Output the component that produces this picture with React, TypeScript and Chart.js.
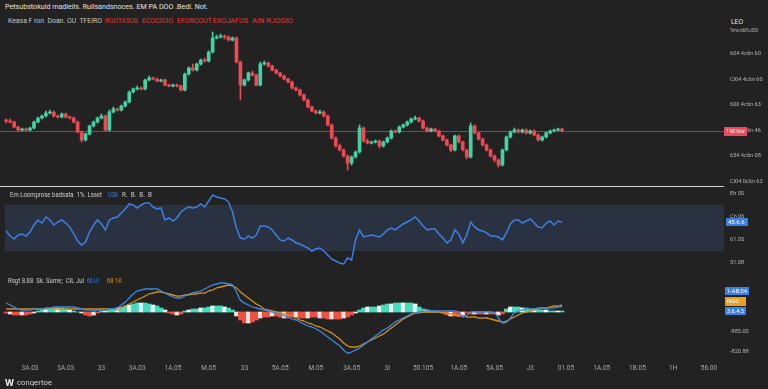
import React, { useEffect, useLayoutEffect, useRef } from "react";
import { Chart, registerables } from "chart.js";
Chart.register(...registerables);

const FONT = "Roboto, 'DejaVu Sans', sans-serif";

// [open, high, low, close]
const candles: number[][] = [
  [80, 81, 77, 79], [79, 81, 77, 78], [78, 79, 72, 73], [73, 74, 69, 70], [70, 72, 69, 71],
  [71, 72, 69, 70], [70, 73, 69, 72], [72, 79, 71, 78], [78, 83, 77, 82], [82, 85, 81, 84],
  [84, 89, 83, 87], [87, 90, 86, 88], [88, 89, 83, 84], [84, 85, 82, 83], [83, 87, 82, 86],
  [86, 87, 82, 83], [83, 84, 81, 82], [82, 83, 77, 78], [78, 79, 67, 68], [68, 69, 58, 60],
  [60, 67, 59, 66], [66, 75, 65, 74], [74, 79, 73, 78], [78, 83, 77, 82], [82, 86, 81, 84],
  [84, 85, 69, 70], [70, 90, 69, 88], [88, 93, 87, 91], [91, 92, 89, 90], [90, 95, 89, 94],
  [94, 99, 93, 98], [98, 109, 97, 108], [108, 112, 107, 111], [111, 114, 110, 112], [112, 113, 110, 111],
  [111, 121, 110, 120], [120, 124, 119, 122], [122, 123, 120, 121], [121, 122, 118, 119], [119, 121, 118, 120],
  [120, 121, 114, 115], [115, 116, 113, 114], [114, 116, 113, 115], [115, 116, 113, 114], [114, 115, 109, 110],
  [110, 127, 109, 126], [126, 133, 125, 132], [132, 136, 129, 130], [130, 137, 129, 136], [136, 141, 135, 140],
  [140, 142, 138, 139], [139, 149, 138, 148], [148, 168, 147, 162], [162, 165, 161, 163], [163, 166, 162, 164],
  [164, 165, 161, 163], [163, 164, 159, 160], [160, 163, 159, 162], [162, 163, 137, 138], [138, 139, 100, 115],
  [115, 121, 114, 120], [120, 128, 119, 127], [127, 129, 124, 125], [125, 126, 114, 115], [115, 138, 114, 136],
  [136, 139, 135, 137], [137, 138, 133, 134], [134, 135, 129, 130], [130, 131, 126, 127], [127, 128, 123, 124],
  [124, 125, 120, 121], [121, 122, 117, 118], [118, 119, 111, 112], [112, 113, 109, 110], [110, 111, 104, 105],
  [105, 106, 99, 100], [100, 101, 92, 93], [93, 94, 88, 89], [89, 90, 86, 87], [87, 90, 86, 88],
  [88, 89, 83, 84], [84, 85, 74, 75], [75, 76, 61, 62], [62, 63, 53, 54], [54, 56, 49, 50],
  [50, 51, 43, 44], [44, 45, 30, 37], [37, 44, 35, 43], [43, 49, 42, 48], [48, 75, 47, 72],
  [72, 73, 58, 59], [59, 61, 56, 57], [57, 59, 56, 58], [58, 60, 57, 59], [59, 60, 52, 54],
  [54, 59, 53, 58], [58, 63, 57, 62], [62, 70, 61, 69], [69, 70, 67, 68], [68, 74, 67, 73],
  [73, 76, 72, 75], [75, 79, 74, 78], [78, 82, 77, 81], [81, 84, 80, 82], [82, 83, 78, 79],
  [79, 80, 71, 72], [72, 73, 68, 69], [69, 72, 68, 71], [71, 72, 68, 69], [69, 70, 63, 64],
  [64, 65, 59, 60], [60, 61, 54, 55], [55, 56, 48, 50], [50, 65, 49, 64], [64, 65, 57, 58],
  [58, 59, 49, 50], [50, 51, 41, 43], [43, 77, 42, 74], [74, 75, 66, 67], [67, 68, 60, 61],
  [61, 62, 54, 55], [55, 56, 49, 50], [50, 51, 43, 44], [44, 45, 38, 40], [40, 41, 33, 35],
  [35, 51, 34, 50], [50, 64, 49, 63], [63, 69, 62, 68], [68, 72, 67, 70], [70, 71, 67, 68],
  [68, 71, 67, 70], [70, 71, 66, 67], [67, 70, 66, 69], [69, 70, 64, 65], [65, 66, 59, 60],
  [60, 64, 59, 63], [63, 68, 62, 67], [67, 70, 66, 69], [69, 71, 68, 70], [70, 72, 69, 71],
  [71, 72, 68, 69],
];

const rsiValues = [
  47.4, 43.0, 40.4, 43.9, 44.8, 43.0, 46.5, 52.6, 57.0, 54.3,
  59.6, 57.0, 52.6, 55.2, 57.0, 54.3, 50.9, 44.8, 38.7, 35.2,
  37.8, 46.5, 52.6, 57.0, 53.5, 48.3, 57.0, 58.7, 59.6, 63.0,
  66.5, 70.9, 70.0, 67.4, 70.0, 71.7, 71.7, 68.3, 66.5, 67.4,
  57.0, 58.7, 56.1, 58.7, 63.9, 66.5, 68.3, 67.4, 68.3, 70.9,
  68.3, 73.5, 78.7, 77.0, 76.1, 75.2, 72.6, 63.9, 50.0, 41.3,
  40.4, 43.0, 41.3, 43.9, 51.7, 51.7, 50.9, 48.3, 43.9, 39.6,
  38.7, 41.3, 39.6, 37.0, 36.1, 34.3, 32.6, 30.0, 31.7, 32.6,
  30.0, 26.5, 23.0, 21.3, 19.6, 18.7, 23.9, 22.2, 39.6, 48.3,
  42.2, 43.0, 43.9, 43.0, 42.2, 44.8, 48.3, 50.0, 48.3, 50.9,
  53.5, 55.2, 57.0, 59.6, 56.1, 51.7, 48.3, 49.1, 49.1, 44.8,
  41.3, 37.0, 39.6, 48.3, 44.8, 37.0, 43.9, 55.2, 50.9, 48.3,
  47.4, 45.7, 43.0, 43.0, 42.2, 39.6, 45.7, 53.5, 57.0, 57.0,
  54.3, 56.1, 57.8, 54.3, 50.9, 50.0, 54.3, 56.1, 52.6, 56.1,
  55.2,
];

const macdValues = [
  4.5, 3.5, 2.5, 1.5, 1, 1, 1, 1.5, 1.5, 1.5,
  2, 2, 2.5, 2.5, 2.5, 2.5, 2.5, 2.5, 2, 1.5,
  1, 1, 1, 1, 1, 1, 1.5, 1.5, 2, 3.5,
  5, 7, 9, 10.5, 11, 11.5, 11.5, 11.5, 11.5, 10.5,
  9.5, 8.5, 7.5, 7, 7, 8, 9, 9.5, 10, 10.5,
  11.5, 12.5, 13.5, 14, 14.5, 14.5, 14, 13.5, 10, 6,
  4.5, 3.5, 2.5, 2, 1.5, 1, 0.5, 0, -0.5, -1,
  -2, -2.5, -3.5, -4, -5, -6, -7, -7.5, -8.5, -9.5,
  -11, -12.5, -14, -15.5, -17, -19, -20.5, -20, -19, -18,
  -16.5, -15, -13.5, -12, -10.5, -9, -8, -6.5, -5, -4,
  -3, -2, -1, -0.5, 0, 0.5, 0.5, 0.5, 0.5, 0.5,
  0.5, 0.5, 0.5, 0.5, 0, -2.5, -1.5, 0, 0, 0,
  0, 0, 0, -0.5, -3, -5.5, -5, -3, -0.5, 0.5,
  1, 1.5, 1.5, 1.5, 2, 2, 2, 2, 2, 2.5,
  2.5,
];

const signalValues = [
  1.5, 1.5, 1.5, 1.5, 1.5, 1.5, 1.5, 1.5, 1.5, 1.5,
  1.5, 1.5, 1.5, 1.5, 1.5, 1.5, 1.5, 1.5, 1.5, 1.5,
  1.5, 1.5, 1.5, 1.5, 1.5, 1.5, 1.5, 1.5, 1, 2,
  3, 4, 5, 6, 7, 8, 9, 9.5, 10, 10,
  9.5, 9, 8.5, 8, 8, 8.5, 8.5, 9, 9, 9.5,
  9.5, 10.5, 11, 12, 12.5, 13, 13.5, 13, 12, 10,
  8.5, 7, 5.5, 4, 3, 1.5, 1, 0.5, 0, -0.5,
  -1, -1.5, -2, -3, -4, -4.5, -5.5, -6, -7, -7.5,
  -8.5, -9.5, -10.5, -12, -13.5, -15.5, -17, -17.5, -17.5, -17,
  -16, -15, -14, -13, -12, -11, -9.5, -8, -6.5, -5,
  -3.5, -2.5, -1.5, -0.5, -0.5, 0, 0, 0, 0, 0,
  -0.5, -0.5, -1, -1.5, -2, -2, -2.5, -2.5, -2.5, -3,
  -3, -3, -3.5, -4, -4.5, -5, -4.5, -3.5, -2.5, -1.5,
  -0.5, 0, 0.5, 1, 1.5, 2, 2, 2.5, 3, 3,
  3.5,
];

const histValues = [
  -0.5, -1, -1.5, -1.5, -1.5, -1.5, -1, -0.5, 0.5, 1,
  1.5, 2, 2, 2, 2, 1.5, 1, 0.5, 0, -0.5,
  -1.5, -2, -1.5, -0.5, 0.5, 0.5, 1, 1.5, 2, 2.5,
  3, 3.5, 4, 4.5, 4.5, 4.5, 4, 3.5, 3, 2,
  1, -0.5, -1, -1.5, -1, 0.5, 1, 1.5, 1.5, 2,
  2, 2.5, 3, 3, 3, 2.5, 2, 1, -2, -4,
  -5.5, -5.5, -5, -4, -3, -2.5, -2.5, -2, -2, -2.5,
  -3, -3, -2.5, -2.5, -3, -3, -3, -2.5, -2.5, -3,
  -3, -3.5, -3.5, -3.5, -3.5, -3, -2.5, -1.5, -0.5, 1,
  2, 2.5, 2.5, 2.5, 3, 3.5, 4, 4, 4.5, 4.5,
  4.5, 4.5, 4.5, 4, 2.5, 1.5, 1, 0.5, 0.5, 0,
  -0.5, -1.5, -2, -2, -2, -1.5, -0.5, -1, -1, -1,
  -1, -1, -1, -1, -1.5, -1, 1.5, 2.5, 2.5, 2.5,
  2, 2, 1.5, 1.5, 1, 1, 1, 0.5, 0.5, 0.5,
  0.5,
];

const xLabels = [
  "3A.03", "3A.03", "33", "3A.03", "1A.05", "M.05", "33", "5A.05", "M.05", "3A.05",
  "3I", "50.105", "1A.05", "5A.05", "J3", "01.05", "1A.05", "1B.05", "1H", "56.00",
];

const priceTickValues = [18, 44, 69, 95, 120, 146];
const priceTickLabels = ["Cl04 0c6n 63", "654 4c6n 08", "148 4c6n 46", "600 4c6n 63", "Cl04 4c6n 60", "604 4c6n 60"];
const rsiTickValues = [20, 40, 60, 80];
const rsiTickLabels = ["51.08", "61.0S", "Ch 06", "Eh 0S"];
const macdTickValues = [-20, -10];
const macdTickLabels = ["-820.88", "-885.00"];

const priceBoxText = "148 Nor";
const rsiBoxText = "45.6.6";
const macdBoxTexts = ["1-AB.04", "NG0", "3.6.4.5"];

const GREEN = "#3fd3a6";
const RED = "#ef4a52";
const BLUE = "#3d80e4";
const ORANGE = "#d6921f";
const BG = "#222222";

const X_MIN = -1.56;
const X_MAX = 181.05;
const LABEL_FIRST = 6;
const LABEL_STEP = 9;

function xAxis(show: boolean) {
  return {
    type: "linear",
    min: X_MIN,
    max: X_MAX,
    offset: false,
    display: show,
    grid: { display: false, drawTicks: false, offset: false },
    border: { display: false },
    afterBuildTicks: (s: any) => {
      s.ticks = xLabels.map((_, k) => ({ value: LABEL_FIRST + LABEL_STEP * k }));
    },
    ticks: {
      color: "#a8a8a8",
      font: { size: 6.5, family: FONT },
      padding: 4,
      maxRotation: 0,
      minRotation: 0,
      autoSkip: false,
      callback: (_v: any, i: number) => xLabels[i],
    },
    afterFit: (s: any) => {
      if (show) {
        s.height = 29;
        s.paddingLeft = 0;
        s.paddingRight = 0;
      }
    },
  };
}

function yAxis(min: number, max: number, values: number[], labels: string[]) {
  return {
    position: "right",
    min,
    max,
    grid: { display: false, drawTicks: false },
    border: { display: false },
    afterBuildTicks: (s: any) => {
      s.ticks = values.map((v) => ({ value: v }));
    },
    ticks: {
      color: "#b4b4b4",
      font: { size: 5.6, family: FONT },
      padding: 5,
      callback: (_v: any, i: number) => labels[i],
    },
    afterFit: (s: any) => {
      s.width = 43;
      s.paddingTop = 0;
      s.paddingBottom = 0;
    },
  };
}

function drawBox(ctx: CanvasRenderingContext2D, x: number, yc: number, w: number, h: number, fill: string, text: string) {
  ctx.save();
  ctx.fillStyle = fill;
  ctx.fillRect(x, Math.round(yc - h / 2), w, h);
  ctx.font = `6px ${FONT}`;
  ctx.fillStyle = "#ffffff";
  ctx.textBaseline = "middle";
  ctx.textAlign = "left";
  const tw = ctx.measureText(text).width;
  const target = w - 4;
  ctx.translate(x + 2, yc + 0.5);
  if (tw > target) ctx.scale(target / tw, 1);
  ctx.fillText(text, 0, 0);
  ctx.restore();
}

const baseOptions = {
  responsive: false,
  maintainAspectRatio: false,
  animation: false,
  events: [],
  layout: { padding: 0 },
  plugins: { legend: { display: false }, tooltip: { enabled: false } },
};

function useChart(ref: React.RefObject<HTMLCanvasElement>, make: () => any) {
  useEffect(() => {
    if (!ref.current) return;
    const chart = new Chart(ref.current, make());
    return () => chart.destroy();
  }, []);
}

function Txt(props: { x: number; y: number; w: number; size: number; color: string; bold?: boolean; children: string }) {
  const ref = useRef<HTMLSpanElement>(null);
  useLayoutEffect(() => {
    const el = ref.current;
    if (!el) return;
    const natural = el.getBoundingClientRect().width;
    if (natural > 0) el.style.transform = `translateY(-50%) scaleX(${props.w / natural})`;
  }, [props.w]);
  return (
    <span
      ref={ref}
      style={{
        position: "absolute",
        left: props.x,
        top: props.y,
        fontSize: props.size,
        lineHeight: 1,
        color: props.color,
        fontFamily: FONT,
        fontWeight: props.bold ? 700 : 400,
        whiteSpace: "pre",
        transformOrigin: "0 50%",
        transform: "translateY(-50%)",
      }}
    >
      {props.children}
    </span>
  );
}

export default function App() {
  const priceRef = useRef<HTMLCanvasElement>(null);
  const rsiRef = useRef<HTMLCanvasElement>(null);
  const macdRef = useRef<HTMLCanvasElement>(null);

  useEffect(() => {
    document.body.style.margin = "0";
    document.body.style.background = BG;
  }, []);

  useChart(priceRef, () => {
    const colors = candles.map((c) => (c[3] >= c[0] ? GREEN : RED));
    const lastClose = candles[candles.length - 1][3];
    return {
      type: "bar",
      data: {
        datasets: [
          {
            label: "wick",
            data: candles.map((c, i) => ({ x: i, y: [c[2], c[1]] })),
            backgroundColor: colors,
            barThickness: 1,
            grouped: false,
            order: 2,
          },
          {
            label: "body",
            data: candles.map((c, i) => ({ x: i, y: [c[0], c[3]] })),
            backgroundColor: colors,
            barThickness: 3,
            minBarLength: 1,
            grouped: false,
            order: 1,
          },
        ],
      },
      options: {
        ...baseOptions,
        scales: { x: xAxis(false), y: yAxis(13, 172, priceTickValues, priceTickLabels) },
      },
      plugins: [
        {
          id: "priceLine",
          beforeDatasetsDraw(chart: any) {
            const { ctx, chartArea } = chart;
            const y = Math.round(chart.scales.y.getPixelForValue(lastClose)) + 0.5;
            ctx.save();
            ctx.strokeStyle = "#a33a34";
            ctx.lineWidth = 1;
            ctx.beginPath();
            ctx.moveTo(chartArea.left, y);
            ctx.lineTo(chartArea.right, y);
            ctx.stroke();
            ctx.restore();
          },
          afterDraw(chart: any) {
            const y = chart.scales.y.getPixelForValue(lastClose);
            drawBox(chart.ctx, chart.chartArea.right - 1, y, 23, 9, "#ec4a5c", priceBoxText);
          },
        },
      ],
    };
  });

  useChart(rsiRef, () => ({
    type: "line",
    data: {
      datasets: [
        {
          data: rsiValues.map((v, i) => ({ x: i, y: v })),
          borderColor: BLUE,
          borderWidth: 1.5,
          pointRadius: 0,
          tension: 0,
        },
      ],
    },
    options: {
      ...baseOptions,
      scales: { x: xAxis(false), y: yAxis(11.74, 85.65, rsiTickValues, rsiTickLabels) },
    },
    plugins: [
      {
        id: "rsiBand",
        beforeDatasetsDraw(chart: any) {
          const { ctx, chartArea, scales } = chart;
          const top = scales.y.getPixelForValue(70);
          const bot = scales.y.getPixelForValue(30);
          ctx.save();
          ctx.fillStyle = "#2a3242";
          ctx.fillRect(chartArea.left + 5, top, chartArea.right - chartArea.left - 6, bot - top);
          ctx.restore();
        },
        afterDraw(chart: any) {
          const y = chart.scales.y.getPixelForValue(rsiValues[rsiValues.length - 1]);
          drawBox(chart.ctx, chart.chartArea.right + 1, y, 22, 8, BLUE, rsiBoxText);
        },
      },
    ],
  }));

  useChart(macdRef, () => ({
    type: "bar",
    data: {
      datasets: [
        {
          type: "line",
          data: macdValues.map((v, i) => ({ x: i, y: v })),
          borderColor: "#3b8ae6",
          borderWidth: 1.3,
          pointRadius: 0,
          tension: 0.35,
          order: 1,
        },
        {
          type: "line",
          data: signalValues.map((v, i) => ({ x: i, y: v })),
          borderColor: ORANGE,
          borderWidth: 1.3,
          pointRadius: 0,
          tension: 0.35,
          order: 2,
        },
        {
          type: "bar",
          data: histValues.map((v, i) => ({ x: i, y: v })),
          backgroundColor: histValues.map((v, i) =>
            v >= 0 ? (i % 3 === 1 ? "#e8fbf5" : "#44dcbc") : i % 3 === 1 ? "#fde3df" : "#f0503f"
          ),
          barThickness: 4,
          grouped: false,
          order: 3,
        },
      ],
    },
    options: {
      ...baseOptions,
      scales: { x: xAxis(true), y: yAxis(-24, 20, macdTickValues, macdTickLabels) },
    },
    plugins: [
      {
        id: "macdBoxes",
        afterDraw(chart: any) {
          const { ctx, chartArea, scales } = chart;
          const x = chartArea.right;
          drawBox(ctx, x, scales.y.getPixelForValue(10.5), 24, 8, BLUE, macdBoxTexts[0]);
          drawBox(ctx, x, scales.y.getPixelForValue(5.5), 21, 9, "#e8a020", macdBoxTexts[1]);
          drawBox(ctx, x, scales.y.getPixelForValue(0.5), 21, 8, BLUE, macdBoxTexts[2]);
        },
      },
    ],
  }));

  return (
    <div style={{ position: "fixed", left: 0, top: 0, width: 768, height: 389, background: BG, overflow: "hidden" }}>
      <canvas ref={priceRef} width={768} height={159} style={{ position: "absolute", left: 0, top: 28 }} />
      <canvas ref={rsiRef} width={768} height={85} style={{ position: "absolute", left: 0, top: 187 }} />
      <canvas ref={macdRef} width={768} height={117} style={{ position: "absolute", left: 0, top: 272 }} />
      <div style={{ position: "absolute", left: 0, top: 186, width: 724, height: 1, background: "#cfcfcf" }} />

      <Txt x={5} y={6.5} w={203} size={8} color="#e2e2e2">Petsubstokuld madleils. Rullsandsnoces. EM PA DOO .Bedl. Not.</Txt>
      <Txt x={8} y={21} w={94} size={7} color="#c8c8c8">Keasa F ron  Doan. OU  TFEIRO</Txt>
      <Txt x={105} y={21} w={33} size={7} color="#dd3f3a">ROOTKSUS</Txt>
      <Txt x={142} y={21} w={31} size={7} color="#dd3f3a">ECOCICIO</Txt>
      <Txt x={177} y={21} w={35} size={7} color="#dd3f3a">EFORCOUT</Txt>
      <Txt x={213} y={21} w={35} size={7} color="#dd3f3a">EXOJAFUS</Txt>
      <Txt x={252} y={21} w={41} size={7} color="#dd3f3a">AIN RJOGIO</Txt>

      <Txt x={731} y={22} w={12} size={8} color="#e2e2e2">LEO</Txt>
      <Txt x={730} y={29.5} w={28} size={5} color="#b8b8b8">Trma ddd?bJ036</Txt>

      <Txt x={10} y={195} w={92} size={7} color="#cfcfcf">Em Loomprose badsata  1%. Lsset</Txt>
      <Txt x={108} y={195} w={10} size={7} color="#3d7fe0">U38</Txt>
      <Txt x={122} y={195} w={30} size={7} color="#cfcfcf">R.  B.  B.  B</Txt>

      <Txt x={8} y={281} w={76} size={7} color="#cfcfcf">Rsgt 8.88  Sk. Sume;  CIL Jul</Txt>
      <Txt x={87} y={281} w={13} size={7} color="#3d7fe0">60.U1</Txt>
      <Txt x={107} y={281} w={15} size={7} color="#d6921f">68 1K</Txt>

      <Txt x={5} y={383} w={9} size={9} color="#e8e8e8" bold>W</Txt>
      <Txt x={17} y={383} w={35} size={8} color="#cfcfcf">conqertoe</Txt>
    </div>
  );
}
